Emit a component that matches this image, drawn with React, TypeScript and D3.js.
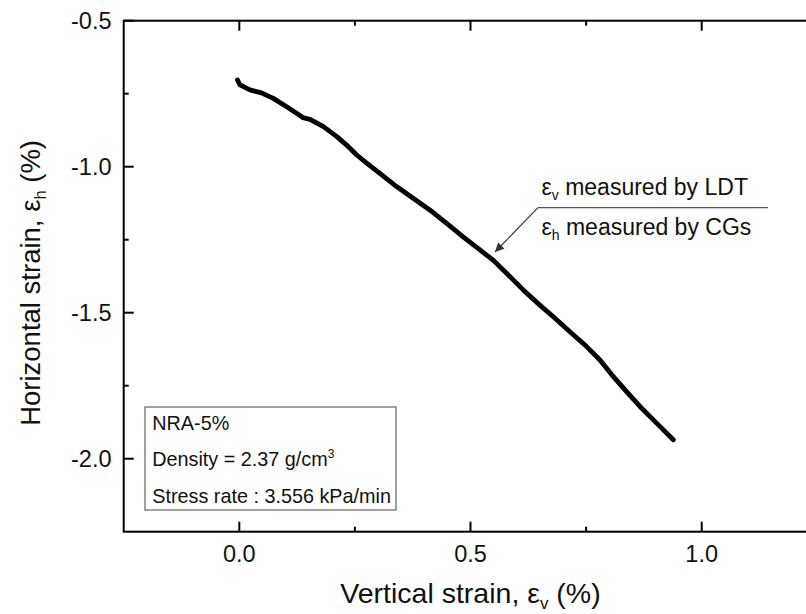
import React from 'react';
import * as d3 from 'd3';

// Vertical strain εv (%) measured by LDT
const strainV = [-0.004, 0.0015, 0.023, 0.048, 0.0735, 0.1025, 0.124, 0.138, 0.153, 0.182, 0.211, 0.232, 0.254, 0.2755, 0.304, 0.34, 0.376, 0.412, 0.4485, 0.484, 0.5205, 0.549, 0.578, 0.614, 0.65, 0.679, 0.715, 0.751, 0.78, 0.809, 0.838, 0.867, 0.903, 0.9386];
// Horizontal strain εh (%) measured by CGs
const strainH = [-0.703, -0.72, -0.737, -0.747, -0.766, -0.795, -0.817, -0.832, -0.838, -0.863, -0.897, -0.926, -0.96, -0.988, -1.023, -1.068, -1.108, -1.148, -1.194, -1.24, -1.285, -1.32, -1.365, -1.422, -1.474, -1.514, -1.565, -1.616, -1.662, -1.719, -1.771, -1.822, -1.879, -1.935];

const xMajorTicks = [0, 0.5, 1.0];
const xMinorTicks = [0.25, 0.75];
const yMajorTicks = [-0.5, -1.0, -1.5, -2.0];
const yMinorTicks = [-0.75, -1.25, -1.75];

const xDomain = [-0.25, 1.25];
const yDomain = [-2.25, -0.5];

const FONT = "'Liberation Sans', Arial, Helvetica, sans-serif";

export default function App() {
  const W = 806;
  const H = 614;
  const x = d3.scaleLinear().domain(xDomain).range([123.7, 817.3]);
  const y = d3.scaleLinear().domain(yDomain).range([531.7, 20.7]);
  const pts = strainV.map((v, i) => [v, strainH[i]] as [number, number]);
  const line = d3.line<[number, number]>().x(d => x(d[0])).y(d => y(d[1])).curve(d3.curveLinear);

  const x0 = x(xDomain[0]), x1 = x(xDomain[1]);
  const y0 = y(yDomain[0]), y1 = y(yDomain[1]);
  const major = 10, minor = 5;

  return (
    <div style={{ position: 'absolute', left: 0, top: 0 }}>
      <svg width={W} height={H} style={{ display: 'block', background: '#fff' }} fontFamily={FONT}>
        <defs>
          <marker id="arrow" viewBox="0 0 10 10" refX="10" refY="5" markerWidth="13" markerHeight="9" markerUnits="userSpaceOnUse" orient="auto">
            <path d="M0,0 L10,5 L0,10 z" fill="#333" />
          </marker>
        </defs>
        <rect x={0} y={0} width={W} height={H} fill="#fff" />
        {/* frame */}
        <rect x={x0} y={y1} width={x1 - x0} height={y0 - y1} fill="none" stroke="#000" strokeWidth={2} />
        {/* x ticks */}
        {xMajorTicks.map(t => (
          <g key={'xm' + t}>
            <line x1={x(t)} x2={x(t)} y1={y0} y2={y0 - major} stroke="#000" strokeWidth={2} />
            <line x1={x(t)} x2={x(t)} y1={y1} y2={y1 + major} stroke="#000" strokeWidth={2} />
            <text x={x(t)} y={562} textAnchor="middle" fontSize={23.5} fill="#111">{d3.format('.1f')(t)}</text>
          </g>
        ))}
        {xMinorTicks.map(t => (
          <g key={'xn' + t}>
            <line x1={x(t)} x2={x(t)} y1={y0} y2={y0 - minor} stroke="#000" strokeWidth={2} />
            <line x1={x(t)} x2={x(t)} y1={y1} y2={y1 + minor} stroke="#000" strokeWidth={2} />
          </g>
        ))}
        {/* y ticks */}
        {yMajorTicks.map(t => (
          <g key={'ym' + t}>
            <line x1={x0} x2={x0 + major} y1={y(t)} y2={y(t)} stroke="#000" strokeWidth={2} />
            <line x1={x1} x2={x1 - major} y1={y(t)} y2={y(t)} stroke="#000" strokeWidth={2} />
            <text x={111.5} y={y(t)} dy="0.36em" textAnchor="end" fontSize={23.5} fill="#111">{d3.format('.1f')(t).replace('−', '-')}</text>
          </g>
        ))}
        {yMinorTicks.map(t => (
          <g key={'yn' + t}>
            <line x1={x0} x2={x0 + minor} y1={y(t)} y2={y(t)} stroke="#000" strokeWidth={2} />
            <line x1={x1} x2={x1 - minor} y1={y(t)} y2={y(t)} stroke="#000" strokeWidth={2} />
          </g>
        ))}
        {/* data curve */}
        <path d={line(pts) || ''} fill="none" stroke="#000" strokeWidth={4.8} strokeLinejoin="round" strokeLinecap="round" />
        {/* axis titles */}
        <text x={x(0.5)} y={603} textAnchor="middle" fontSize={28.5} fill="#111">
          <tspan>Vertical strain, ε</tspan>
          <tspan fontSize={17} dy={6}>v</tspan>
          <tspan dy={-6}> (%)</tspan>
        </text>
        <text transform="translate(40,140) rotate(-90)" textAnchor="end" fontSize={27.5} fill="#111">
          <tspan>Horizontal strain, ε</tspan>
          <tspan fontSize={16.5} dy={6}>h</tspan>
          <tspan dy={-6}> (%)</tspan>
        </text>
        {/* annotation */}
        <line x1={538} y1={207.7} x2={768} y2={207.7} stroke="#555" strokeWidth={1.3} />
        <line x1={538} y1={207.7} x2={495} y2={252} stroke="#333" strokeWidth={1.1} markerEnd="url(#arrow)" />
        <text x={541.5} y={195} fontSize={23} fill="#111">
          <tspan>ε</tspan>
          <tspan fontSize={14} dy={5}>v</tspan>
          <tspan dy={-5}> measured by LDT</tspan>
        </text>
        <text x={541.5} y={235} fontSize={23} fill="#111">
          <tspan>ε</tspan>
          <tspan fontSize={14} dy={5}>h</tspan>
          <tspan dy={-5}> measured by CGs</tspan>
        </text>
        {/* legend box */}
        <rect x={145} y={407} width={251} height={103} fill="#fff" stroke="#444" strokeWidth={1} />
        <text x={152.3} y={429.5} fontSize={19.8} fill="#111">NRA-5%</text>
        <text x={152.3} y={466} fontSize={19.8} fill="#111">
          <tspan>Density = 2.37 g/cm</tspan>
          <tspan fontSize={12} dy={-8}>3</tspan>
        </text>
        <text x={152.3} y={503} fontSize={19.8} fill="#111">Stress rate : 3.556 kPa/min</text>
      </svg>
    </div>
  );
}
